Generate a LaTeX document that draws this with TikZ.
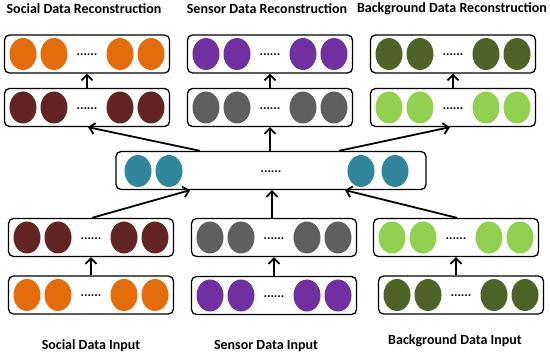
\documentclass[tikz,border=0pt]{standalone}
\usepackage{fontspec}
\setmainfont{Carlito}
\usetikzlibrary{arrows.meta,shapes.geometric}
\definecolor{corange}{HTML}{E46C0A}
\definecolor{cdred}{HTML}{632523}
\definecolor{cpurple}{HTML}{7030A0}
\definecolor{cgray}{HTML}{5F5F5F}
\definecolor{colive}{HTML}{4F6228}
\definecolor{clgreen}{HTML}{92D050}
\definecolor{cteal}{HTML}{31859C}
\tikzset{
  layerbox/.style={draw=black, line width=1.3pt, rounded corners=5pt, minimum width=165pt, minimum height=38pt, inner sep=0pt},
  unit/.style={ellipse, fill=#1, minimum width=27pt, minimum height=32pt, inner sep=0pt},
  dotsnode/.style={font=\bfseries\fontsize{13}{15}\selectfont, inner sep=0pt},
  ttl/.style={font=\bfseries\fontsize{14}{16}\selectfont, inner sep=0pt},
  arr/.style={line width=1.8pt, -{Straight Barb[length=5.5pt,width=11pt,line width=1.8pt]}},
}
\newcommand{\unitrow}[2]{%
  \node[unit=#2] (#1u1) at ([xshift=-64pt]#1.center) {};
  \node[unit=#2] (#1u2) at ([xshift=-33pt]#1.center) {};
  \node[unit=#2] (#1u3) at ([xshift=33pt]#1.center) {};
  \node[unit=#2] (#1u4) at ([xshift=64pt]#1.center) {};
  \node[dotsnode] (#1d) at ([yshift=-1pt]#1.center) {......};
}
\begin{document}
\begin{tikzpicture}[x=1pt,y=-1pt]
\useasboundingbox (0,0) rectangle (550,355);
% titles
\node[ttl] (t1) at (84,9) {Social Data Reconstruction};
\node[ttl] (t2) at (267,9) {Sensor Data Reconstruction};
\node[ttl] (t3) at (452,9) {Background Data Reconstruction};
\node[ttl] (b1) at (91,346) {Social Data Input};
\node[ttl] (b2) at (266,346) {Sensor Data Input};
\node[ttl] (b3) at (455,341) {Background Data Input};
% boxes
\node[layerbox] (SR1) at (87,54) {};
\node[layerbox] (SR2) at (87,107.5) {};
\node[layerbox] (NR1) at (270,54) {};
\node[layerbox] (NR2) at (270,107.5) {};
\node[layerbox] (BR1) at (453,54) {};
\node[layerbox] (BR2) at (453,107.5) {};
\node[layerbox, minimum width=310pt] (M) at (271,170.5) {};
\node[layerbox] (SH) at (91,237.5) {};
\node[layerbox] (SI) at (91,295) {};
\node[layerbox] (NH) at (274,237.5) {};
\node[layerbox] (NI) at (274,295.5) {};
\node[layerbox] (BH) at (456,237.5) {};
\node[layerbox] (BI) at (461,295) {};
% units
\unitrow{SR1}{corange}
\unitrow{SR2}{cdred}
\unitrow{NR1}{cpurple}
\unitrow{NR2}{cgray}
\unitrow{BR1}{colive}
\unitrow{BR2}{clgreen}
\unitrow{SH}{cdred}
\unitrow{SI}{corange}
\unitrow{NH}{cgray}
\unitrow{NI}{cpurple}
\unitrow{BH}{clgreen}
\unitrow{BI}{colive}
\node[unit=cteal] (Mu1) at (138,171) {};
\node[unit=cteal] (Mu2) at (169,171) {};
\node[unit=cteal] (Mu3) at (361,171) {};
\node[unit=cteal] (Mu4) at (395,171) {};
\node[dotsnode] (Md) at ([yshift=-1pt]M.center) {......};
% arrows
\draw[arr] (SR2.north) -- (SR1.south);
\draw[arr] (NR2.north) -- (NR1.south);
\draw[arr] (BR2.north) -- (BR1.south);
\draw[arr] ([xshift=-71pt]M.north) -- ([xshift=1pt]SR2.south);
\draw[arr] (M.north -| NR2.south) -- (NR2.south);
\draw[arr] ([xshift=68pt]M.north) -- ([xshift=-3pt]BR2.south);
\draw[arr] ([xshift=1pt]SH.north) -- ([xshift=-81pt]M.south);
\draw[arr] ([xshift=-2pt]NH.north) -- ([xshift=-2pt]NH.north |- M.south);
\draw[arr] ([xshift=1pt]BH.north) -- ([xshift=74pt]M.south);
\draw[arr] (SI.north) -- (SH.south);
\draw[arr] (NI.north) -- (NH.south);
\draw[arr] (BI.north -| BH.south) -- (BH.south);
\end{tikzpicture}
\end{document}
